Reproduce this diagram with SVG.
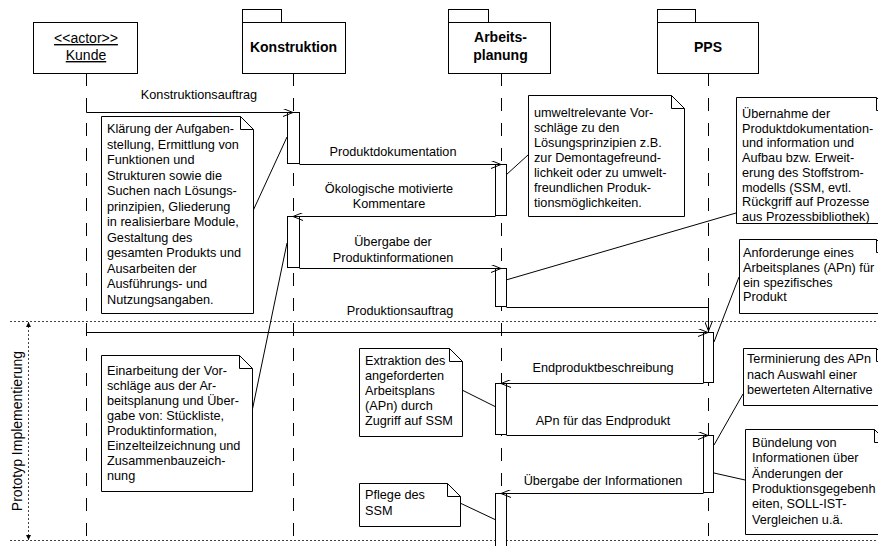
<svg xmlns="http://www.w3.org/2000/svg" width="878" height="546" viewBox="0 0 878 546">
  <style>
    text { font-family: "Liberation Sans", Arial, sans-serif; fill: #000; }
    .t { font-size: 12.7px; }
    .lbl { font-size: 12.7px; text-anchor: middle; }
    .hd { font-size: 14px; text-anchor: middle; }
    .hb { font-size: 14px; font-weight: bold; text-anchor: middle; }
    .box { fill: #fff; stroke: #000; stroke-width: 1; }
    .life { stroke: #000; stroke-width: 1; stroke-dasharray: 13 12; fill: none; }
    .act { fill: #fff; stroke: #000; stroke-width: 1; }
    .msg { stroke: #000; stroke-width: 1; fill: none; marker-end: url(#open); }
    .note { fill: #fff; stroke: #000; stroke-width: 1; }
    .link { stroke: #000; stroke-width: 1; fill: none; }
    .dot { stroke: #444; stroke-width: 1; stroke-dasharray: 2 2; fill: none; }
  </style>
  <defs>
    <marker id="open" viewBox="0 0 10 8" refX="10" refY="4" markerWidth="10" markerHeight="8" markerUnits="userSpaceOnUse" orient="auto">
      <path d="M0,0 L10,4 L0,8" fill="none" stroke="#000" stroke-width="1"/>
    </marker>
    <marker id="solid" viewBox="0 0 6 6" refX="6" refY="3" markerWidth="5" markerHeight="5" markerUnits="userSpaceOnUse" orient="auto-start-reverse">
      <path d="M0,0 L6,3 L0,6 Z" fill="#000"/>
    </marker>
  </defs>
  <rect x="0" y="0" width="878" height="546" fill="#fff"/>

  <!-- phase band -->
  <g id="phase">
    <line class="dot" x1="10" y1="321.5" x2="878" y2="321.5"/>
    <line class="dot" x1="10" y1="540.5" x2="878" y2="540.5"/>
    <line class="dot" x1="28.5" y1="322" x2="28.5" y2="540" style="marker-start:url(#solid);marker-end:url(#solid)"/>
    <text transform="translate(22,431) rotate(-90)" style="font-size:14px;text-anchor:middle">Prototyp Implementierung</text>
  </g>

  <!-- lifelines -->
  <g id="lifelines">
    <line class="life" x1="86.5" y1="73" x2="86.5" y2="546"/>
    <line class="life" x1="293.5" y1="73" x2="293.5" y2="546"/>
    <line class="life" x1="501.5" y1="73" x2="501.5" y2="546"/>
    <line class="life" x1="708.5" y1="73" x2="708.5" y2="546"/>
  </g>

  <!-- participants -->
  <g id="kunde">
    <rect class="box" x="33.5" y="22.5" width="104" height="51"/>
    <text class="hd" x="86" y="43" text-decoration="underline">&lt;&lt;actor&gt;&gt;</text>
    <text class="hd" x="86" y="60" text-decoration="underline">Kunde</text>
  </g>
  <g id="konstruktion">
    <rect class="box" x="242.5" y="9.5" width="39" height="13"/>
    <rect class="box" x="242.5" y="22.5" width="103" height="51"/>
    <text class="hb" x="293.5" y="52">Konstruktion</text>
  </g>
  <g id="arbeitsplanung">
    <rect class="box" x="448.5" y="9.5" width="40" height="13"/>
    <rect class="box" x="448.5" y="22.5" width="102" height="51"/>
    <text class="hb" x="500.5" y="42">Arbeits-</text>
    <text class="hb" x="500.5" y="60">planung</text>
  </g>
  <g id="pps">
    <rect class="box" x="657.5" y="9.5" width="38" height="13"/>
    <rect class="box" x="657.5" y="22.5" width="101" height="51"/>
    <text class="hb" x="708" y="52">PPS</text>
  </g>

  <!-- activation bars -->
  <g id="activations">
    <rect class="act" x="287.5" y="112.5" width="12" height="51"/>
    <rect class="act" x="287.5" y="216.5" width="12" height="51"/>
    <rect class="act" x="495.5" y="164.5" width="11" height="51"/>
    <rect class="act" x="495.5" y="268.5" width="11" height="38"/>
    <rect class="act" x="703.5" y="332.5" width="10" height="50"/>
    <rect class="act" x="495.5" y="383.5" width="11" height="51"/>
    <rect class="act" x="703.5" y="435.5" width="10" height="57"/>
    <rect class="act" x="495.5" y="493.5" width="11" height="60"/>
  </g>

  <!-- messages -->
  <g id="messages">
    <path class="msg" d="M86.5,99 V112.5 H293"/>
    <text class="lbl" x="199" y="99">Konstruktionsauftrag</text>
    <path class="msg" d="M299.5,164.5 H501"/>
    <text class="lbl" x="393" y="156">Produktdokumentation</text>
    <path class="msg" d="M495.5,216.5 H293"/>
    <text class="lbl" x="389" y="193">Ökologische motivierte</text>
    <text class="lbl" x="389" y="208">Kommentare</text>
    <path class="msg" d="M299.5,268.5 H501"/>
    <text class="lbl" x="393" y="246">Übergabe der</text>
    <text class="lbl" x="393" y="262">Produktinformationen</text>
    <path class="msg" d="M506.5,307.5 H708.5 V331"/>
    <text class="lbl" x="400" y="315">Produktionsauftrag</text>
    <path class="msg" d="M86.5,332.5 H708"/>
    <path class="msg" d="M703.5,383.5 H501"/>
    <text class="lbl" x="603" y="372">Endproduktbeschreibung</text>
    <path class="msg" d="M506.5,435.5 H708"/>
    <text class="lbl" x="603" y="425">APn für das Endprodukt</text>
    <path class="msg" d="M703.5,493.5 H501"/>
    <text class="lbl" x="603" y="485">Übergabe der Informationen</text>
  </g>

  <!-- note anchors -->
  <g id="anchors">
    <line class="link" x1="252" y1="213" x2="287" y2="137"/>
    <line class="link" x1="250" y1="421" x2="287" y2="243"/>
    <line class="link" x1="528" y1="155" x2="506" y2="175"/>
    <line class="link" x1="736" y1="213" x2="506" y2="280"/>
    <line class="link" x1="739" y1="277" x2="714" y2="342"/>
    <line class="link" x1="462" y1="390" x2="496" y2="407"/>
    <line class="link" x1="460" y1="503" x2="496" y2="520"/>
    <line class="link" x1="743" y1="394" x2="714" y2="445"/>
    <line class="link" x1="745" y1="480" x2="714" y2="473"/>
  </g>

  <!-- notes -->
  <g id="note-klaerung">
    <path class="note" d="M101.5,116.5 H240.5 L253.5,129.5 V313.5 H101.5 Z"/>
    <path class="link" d="M240.5,116.5 V129.5 H253.5"/>
    <text class="t" x="107" y="133">Klärung der Aufgaben-</text>
    <text class="t" x="107" y="148.5">stellung, Ermittlung von</text>
    <text class="t" x="107" y="164">Funktionen und</text>
    <text class="t" x="107" y="179.5">Strukturen sowie die</text>
    <text class="t" x="107" y="195">Suchen nach Lösungs-</text>
    <text class="t" x="107" y="210.5">prinzipien, Gliederung</text>
    <text class="t" x="107" y="226">in realisierbare Module,</text>
    <text class="t" x="107" y="241.5">Gestaltung des</text>
    <text class="t" x="107" y="257">gesamten Produkts und</text>
    <text class="t" x="107" y="272.5">Ausarbeiten der</text>
    <text class="t" x="107" y="288">Ausführungs- und</text>
    <text class="t" x="107" y="303.5">Nutzungsangaben.</text>
  </g>

  <g id="note-einarbeitung">
    <path class="note" d="M101.5,355.5 H239.5 L252.5,368.5 V491.5 H101.5 Z"/>
    <path class="link" d="M239.5,355.5 V368.5 H252.5"/>
    <text class="t" x="107" y="375">Einarbeitung der Vor-</text>
    <text class="t" x="107" y="390">schläge aus der Ar-</text>
    <text class="t" x="107" y="405">beitsplanung und Über-</text>
    <text class="t" x="107" y="420">gabe von: Stückliste,</text>
    <text class="t" x="107" y="435">Produktinformation,</text>
    <text class="t" x="107" y="450">Einzelteilzeichnung und</text>
    <text class="t" x="107" y="465">Zusammenbauzeich-</text>
    <text class="t" x="107" y="480">nung</text>
  </g>

  <g id="note-umwelt">
    <path class="note" d="M528.5,95.5 H671.5 L684.5,108.5 V216.5 H528.5 Z"/>
    <path class="link" d="M671.5,95.5 V108.5 H684.5"/>
    <text class="t" x="534" y="117">umweltrelevante Vor-</text>
    <text class="t" x="534" y="132">schläge zu den</text>
    <text class="t" x="534" y="147">Lösungsprinzipien z.B.</text>
    <text class="t" x="534" y="162">zur Demontagefreund-</text>
    <text class="t" x="534" y="177">lichkeit oder zu umwelt-</text>
    <text class="t" x="534" y="192">freundlichen  Produk-</text>
    <text class="t" x="534" y="207">tionsmöglichkeiten.</text>
  </g>

  <g id="note-uebernahme">
    <path class="note" d="M736.5,97.5 H876.5 L889.5,110.5 V223.5 H736.5 Z"/>
    <path class="link" d="M876.5,97.5 V110.5 H889.5"/>
    <text class="t" x="742" y="118">Übernahme der</text>
    <text class="t" x="742" y="132.7">Produktdokumentation-</text>
    <text class="t" x="742" y="147.4">und information und</text>
    <text class="t" x="742" y="162.1">Aufbau bzw. Erweit-</text>
    <text class="t" x="742" y="176.8">erung des Stoffstrom-</text>
    <text class="t" x="742" y="191.5">modells (SSM, evtl.</text>
    <text class="t" x="742" y="206.2">Rückgriff auf Prozesse</text>
    <text class="t" x="742" y="220.9">aus Prozessbibliothek)</text>
  </g>

  <g id="note-anforderung">
    <path class="note" d="M739.5,239.5 H876.5 L889.5,252.5 V313.5 H739.5 Z"/>
    <path class="link" d="M876.5,239.5 V252.5 H889.5"/>
    <text class="t" x="743" y="257">Anforderunge eines</text>
    <text class="t" x="743" y="272">Arbeitsplanes (APn) für</text>
    <text class="t" x="743" y="287">ein spezifisches</text>
    <text class="t" x="743" y="301">Produkt</text>
  </g>

  <g id="note-extraktion">
    <path class="note" d="M359.5,348.5 H449.5 L462.5,361.5 V436.5 H359.5 Z"/>
    <path class="link" d="M449.5,348.5 V361.5 H462.5"/>
    <text class="t" x="365" y="365">Extraktion des</text>
    <text class="t" x="365" y="380">angeforderten</text>
    <text class="t" x="365" y="395">Arbeitsplans</text>
    <text class="t" x="365" y="410">(APn) durch</text>
    <text class="t" x="365" y="425">Zugriff auf SSM</text>
  </g>

  <g id="note-pflege">
    <path class="note" d="M359.5,483.5 H447.5 L460.5,496.5 V526.5 H359.5 Z"/>
    <path class="link" d="M447.5,483.5 V496.5 H460.5"/>
    <text class="t" x="365" y="499">Pflege des</text>
    <text class="t" x="365" y="515">SSM</text>
  </g>

  <g id="note-terminierung">
    <path class="note" d="M743.5,348.5 H876.5 L889.5,361.5 V405.5 H743.5 Z"/>
    <path class="link" d="M876.5,348.5 V361.5 H889.5"/>
    <text class="t" x="747" y="363">Terminierung des APn</text>
    <text class="t" x="747" y="379">nach Auswahl einer</text>
    <text class="t" x="747" y="394">bewerteten Alternative</text>
  </g>

  <g id="note-buendelung">
    <path class="note" d="M745.5,429.5 H874.5 L887.5,442.5 V534.5 H745.5 Z"/>
    <path class="link" d="M874.5,429.5 V442.5 H887.5"/>
    <text class="t" x="752" y="447">Bündelung von</text>
    <text class="t" x="752" y="462">Informationen über</text>
    <text class="t" x="752" y="477.5">Änderungen der</text>
    <text class="t" x="752" y="493">Produktionsgegebenh</text>
    <text class="t" x="752" y="508">eiten, SOLL-IST-</text>
    <text class="t" x="752" y="523.5">Vergleichen u.ä.</text>
  </g>
</svg>
